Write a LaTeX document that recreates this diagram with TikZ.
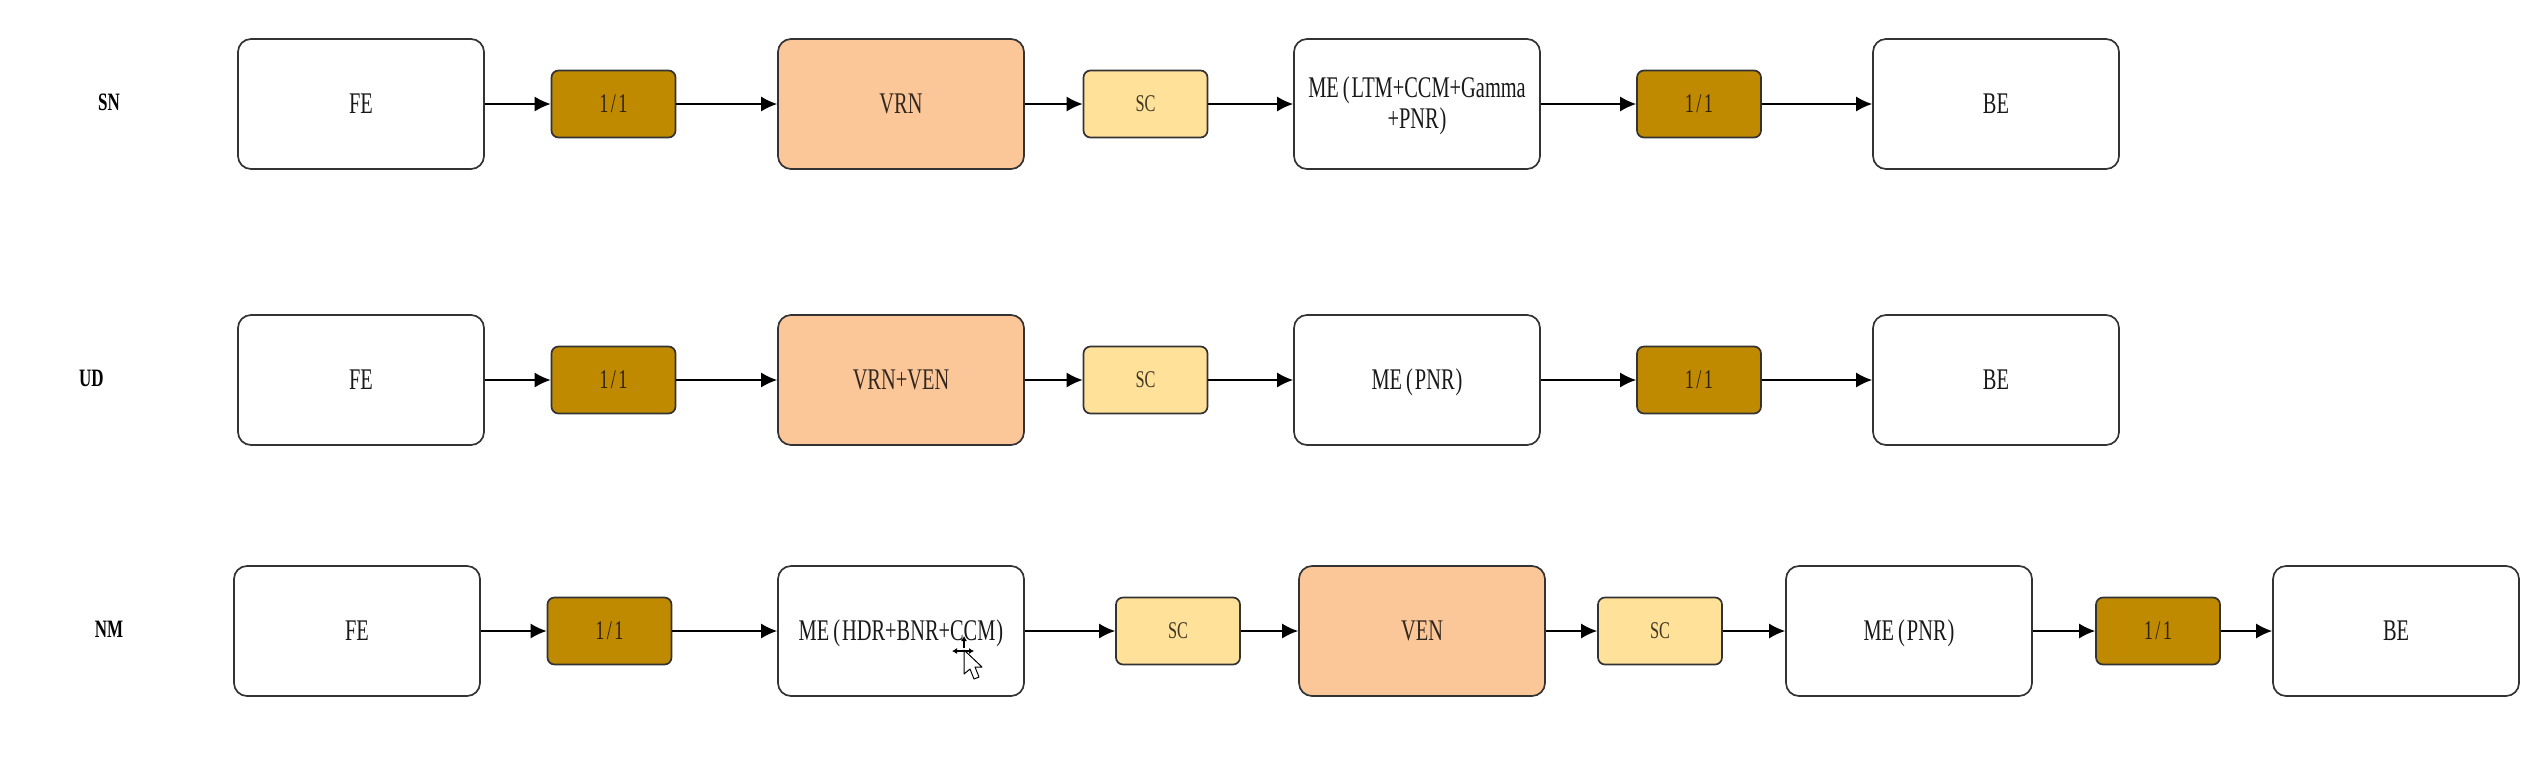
\documentclass[tikz,border=0pt]{standalone}
\usepackage{fontspec}
\setmainfont[FakeStretch=0.68]{Liberation Serif}
\usetikzlibrary{arrows.meta}
\definecolor{lineC}{HTML}{333333}
\definecolor{orangeC}{HTML}{FBC799}
\definecolor{goldC}{HTML}{BF8A00}
\definecolor{paleC}{HTML}{FFE199}
\newcommand{\opn}{\kern2pt\smash{(}\kern1pt}
\newcommand{\cls}{\kern0.5pt\smash{)}}
\newcommand{\ratio}{1\kern1.2pt/\kern1.2pt1}
\tikzset{
  x=0.5pt,y=-0.5pt,
  base/.style={draw=lineC,line width=0.85pt,rounded corners=6.5pt,inner sep=0pt,align=center,font=\fontsize{15}{15.5}\selectfont,text=black!90},
  bigbox/.style={base,minimum width=123pt,minimum height=65pt},
  whitebox/.style={bigbox,fill=white},
  peachbox/.style={bigbox,fill=orangeC,text=black!80!orangeC},
  ratebox/.style={base,fill=goldC,minimum width=62pt,minimum height=33.5pt,rounded corners=3.5pt,font=\fontsize{13.5}{15}\selectfont,text=black!75!goldC},
  scbox/.style={base,fill=paleC,minimum width=62pt,minimum height=33.5pt,rounded corners=3.5pt,font=\fontsize{12}{15}\selectfont,text=black!75!paleC},
  rowlabel/.style={font=\fontsize{12.5}{14}\selectfont\bfseries,inner sep=0pt},
  link/.style={draw=black,line width=0.8pt,-{Latex[length=8pt,width=7.5pt]}}
}
\begin{document}
\begin{tikzpicture}
\useasboundingbox (0,0) rectangle (2536,767);
% row 1
\node[rowlabel] (l1) at (109,102) {SN};
\node[whitebox] (a1) at (361,104) {FE};
\node[ratebox]  (a2) at (613.5,104) {\ratio};
\node[peachbox] (a3) at (901,104) {VRN};
\node[scbox]    (a4) at (1145.5,104) {SC};
\node[whitebox] (a5) at (1417,104) {\raisebox{0.7pt}{ME\opn LTM+CCM+Gamma}\\\raisebox{0.7pt}{+PNR\cls}};
\node[ratebox]  (a6) at (1699,104) {\ratio};
\node[whitebox] (a7) at (1996,104) {BE};
% row 2
\node[rowlabel] (l2) at (91.5,378) {UD};
\node[whitebox] (b1) at (361,380) {FE};
\node[ratebox]  (b2) at (613.5,380) {\ratio};
\node[peachbox] (b3) at (901,380) {VRN+VEN};
\node[scbox]    (b4) at (1145.5,380) {SC};
\node[whitebox] (b5) at (1417,380) {ME\opn PNR\cls};
\node[ratebox]  (b6) at (1699,380) {\ratio};
\node[whitebox] (b7) at (1996,380) {BE};
% row 3
\node[rowlabel] (l3) at (109,629.5) {NM};
\node[whitebox] (c1) at (357,631) {FE};
\node[ratebox]  (c2) at (609.5,631) {\ratio};
\node[whitebox] (c3) at (901,631) {ME\opn HDR+BNR+CCM\cls};
\node[scbox]    (c4) at (1178,631) {SC};
\node[peachbox] (c5) at (1422,631) {VEN};
\node[scbox]    (c6) at (1660,631) {SC};
\node[whitebox] (c7) at (1909,631) {ME\opn PNR\cls};
\node[ratebox]  (c8) at (2158,631) {\ratio};
\node[whitebox] (c9) at (2396,631) {BE};
\foreach \p/\q in {a1/a2,a2/a3,a3/a4,a4/a5,a5/a6,a6/a7,
                   b1/b2,b2/b3,b3/b4,b4/b5,b5/b6,b6/b7,
                   c1/c2,c2/c3,c3/c4,c4/c5,c5/c6,c6/c7,c7/c8,c8/c9}
  \draw[link] (\p) -- (\q);
% mouse cursor
\draw[fill=white,draw=black,line width=0.5pt,line join=round]
  (964,650) -- (964,674) -- (970,669) -- (974,679) -- (979,677) -- (975,667) -- (982,667) -- cycle;
\draw[black,line width=0.6pt,{Latex[length=2.5pt,width=3pt]}-{Latex[length=2.5pt,width=3pt]}] (952,651) -- (974,651);
\draw[black,line width=0.6pt,{Latex[length=2.5pt,width=3pt]}-] (964,636) -- (964,648);
\end{tikzpicture}
\end{document}
